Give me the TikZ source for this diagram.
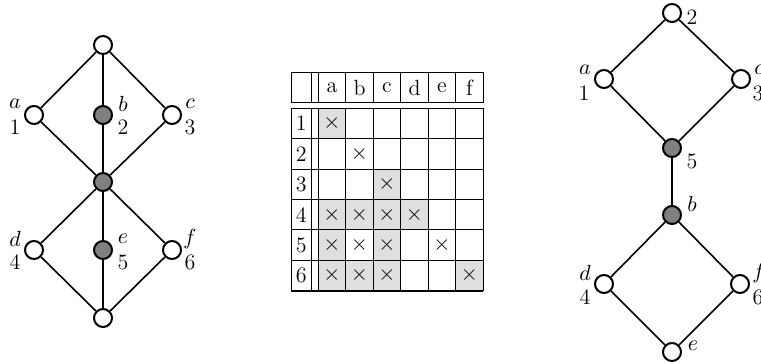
\documentclass[tikz,border=0pt]{standalone}
\begin{document}
\begin{tikzpicture}[x=0.5pt,y=-0.5pt,font=\fontsize{11}{13}\selectfont,
  vtx/.style={circle,draw,line width=1pt,minimum size=9pt,inner sep=0pt,fill=white},
  fvtx/.style={vtx,fill=gray},
  edge/.style={line width=0.8pt},
  lab/.style={inner sep=0pt},
  shade/.style={fill=gray!25},
  grid/.style={line width=0.5pt}]
\useasboundingbox (0,0) rectangle (761,364);
% ---------- left graph ----------
\node[vtx] (T) at (103,45) {};
\node[vtx] (A) at (34,115) {};
\node[fvtx] (B) at (103,115) {};
\node[vtx] (C) at (172,115) {};
\node[fvtx] (M) at (103,182) {};
\node[vtx] (D) at (34,250) {};
\node[fvtx] (E) at (103,250) {};
\node[vtx] (F) at (172,250) {};
\node[vtx] (U) at (103,318) {};
\draw[edge] (T) -- (A) (T) -- (B) (T) -- (C)
  (A) -- (M) (B) -- (M) (C) -- (M)
  (M) -- (D) (M) -- (E) (M) -- (F)
  (D) -- (U) (E) -- (U) (F) -- (U);
\node[lab] (la) at (15,104) {$a$};
\node[lab] (l1) at (15,127) {1};
\node[lab] (lb) at (123,104) {$b$};
\node[lab] (l2) at (123,127) {2};
\node[lab] (lc) at (190,104) {$c$};
\node[lab] (l3) at (190,127) {3};
\node[lab] (ld) at (15,239) {$d$};
\node[lab] (l4) at (15,262) {4};
\node[lab] (le) at (123,239) {$e$};
\node[lab] (l5) at (123,262) {5};
\node[lab] (lf) at (190,239) {$f$};
\node[lab] (l6) at (190,262) {6};
% ---------- table ----------
\foreach \i/\j in {1/1,3/3,1/4,2/4,3/4,4/4,1/5,3/5,1/6,2/6,3/6,6/6}
  \fill[shade] ({318.3+27.5*(\i-1)},{108.3+30.4*(\j-1)}) rectangle ++(27.5,30.4);
% header box
\draw[grid] (291,72) rectangle (483.3,102.3);
\foreach \x in {311.7,318.3,345.8,373.3,400.8,428.3,455.8}
  \draw[grid] (\x,72) -- (\x,102.3);
% body box
\draw[grid] (291,108.3) -- (483.3,108.3) (291,108.3) -- (291,290.7) (483.3,108.3) -- (483.3,290.7);
\foreach \x in {311.7,318.3,345.8,373.3,400.8,428.3,455.8}
  \draw[grid] (\x,108.3) -- (\x,290.7);
\foreach \k in {1,...,5}
  \draw[grid] (291,{108.3+30.4*\k}) -- (483.3,{108.3+30.4*\k});
\draw[line width=1pt] (291,290.7) -- (483.3,290.7);
\foreach \c [count=\i] in {a,b,c,d,e,f}
  \node[lab] (h\c) at ({332+27.5*(\i-1)},87.5) {\c};
\foreach \j in {1,...,6}
  \node[lab] (r\j) at (301.3,{123.5+30.4*(\j-1)}) {\j};
\foreach \i/\j in {1/1,2/2,3/3,1/4,2/4,3/4,4/4,1/5,2/5,3/5,5/5,1/6,2/6,3/6,6/6}
  \node[lab] (x\i\j) at ({332+27.5*(\i-1)},{123.5+30.4*(\j-1)}) {$\times$};
% ---------- right graph ----------
\node[vtx] (R2) at (672,13) {};
\node[vtx] (Ra) at (604,79) {};
\node[vtx] (Rc) at (741,79) {};
\node[fvtx] (R5) at (672,148) {};
\node[fvtx] (Rb) at (672,215) {};
\node[vtx] (Rd) at (604,284) {};
\node[vtx] (Rf) at (740,284) {};
\node[vtx] (Re) at (672,352) {};
\draw[edge] (R2) -- (Ra) (R2) -- (Rc) (Ra) -- (R5) (Rc) -- (R5)
  (R5) -- (Rb) (Rb) -- (Rd) (Rb) -- (Rf) (Rd) -- (Re) (Rf) -- (Re);
\node[lab] (rl2) at (692,17) {2};
\node[lab] (rla) at (585,70) {$a$};
\node[lab] (rl1) at (584,93) {1};
\node[lab] (rlc) at (759,70) {$c$};
\node[lab] (rl3) at (758,93) {3};
\node[lab] (rl5) at (692,161) {5};
\node[lab] (rlb) at (692,204) {$b$};
\node[lab] (rld) at (585,273) {$d$};
\node[lab] (rl4) at (585,297) {4};
\node[lab] (rlf) at (759,273) {$f$};
\node[lab] (rl6) at (758,297) {6};
\node[lab] (rle) at (693,346) {$e$};
\end{tikzpicture}
\end{document}
